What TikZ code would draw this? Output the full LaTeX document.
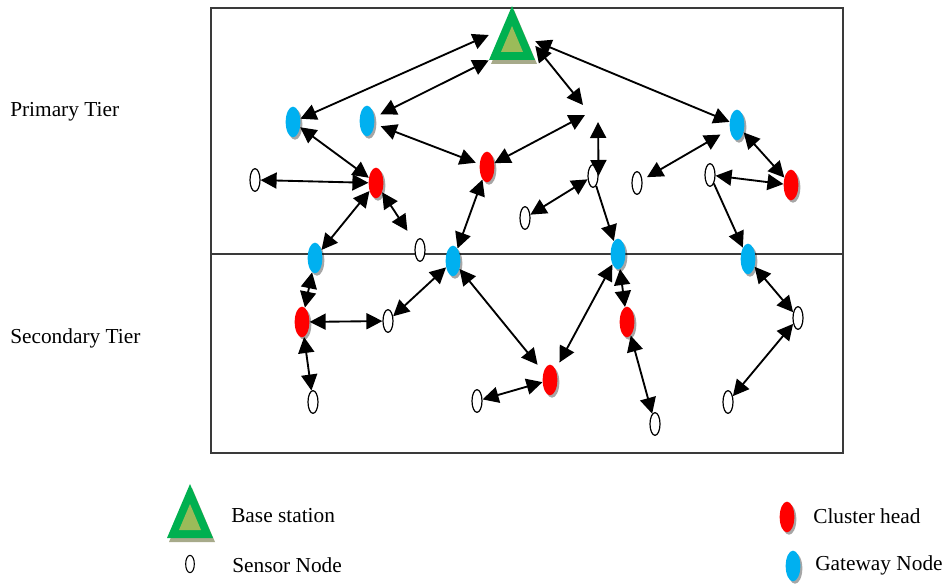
\documentclass[tikz,border=0pt]{standalone}
\usepackage{fontspec}
\setmainfont{Liberation Serif}
\usetikzlibrary{arrows.meta,shapes.geometric,shadows}
\definecolor{gwblue}{HTML}{00B0F0}
\definecolor{chred}{HTML}{FF0000}
\definecolor{bsgreen}{HTML}{00B050}
\definecolor{bsolive}{HTML}{9BBB59}
\definecolor{bsshadow}{HTML}{A7AA8A}
\definecolor{framegray}{HTML}{3A3A3A}
\tikzset{
  nshadow/.style={drop shadow={shadow xshift=1.5pt, shadow yshift=-1.8pt, fill=black, opacity=0.35}},
  gw/.style={ellipse, fill=gwblue, minimum width=11pt, minimum height=23pt, inner sep=0pt, nshadow},
  ch/.style={ellipse, fill=chred, minimum width=11pt, minimum height=23pt, inner sep=0pt, nshadow},
  sn/.style={ellipse, draw=black, line width=0.9pt, fill=white, minimum width=7.5pt, minimum height=17pt, inner sep=0pt},
  dar/.style={{Triangle[length=12pt,width=12pt]}-{Triangle[length=12pt,width=12pt]}, line width=1.4pt},
  sar/.style={-{Triangle[length=12pt,width=12pt]}, line width=1.4pt},
  lbl/.style={anchor=west, inner sep=0pt, font=\fontsize{16}{19}\selectfont},
  basestation/.pic={
    \fill[bsshadow] (2,-23) -- (-21,31) -- (25,31) -- cycle;
    \fill[bsgreen] (0,-27) -- (-23,27) -- (23,27) -- cycle;
    \fill[bsolive] (0,-7) -- (-11,19) -- (11,19) -- cycle;
  }
}
\begin{document}
\begin{tikzpicture}[x=0.75pt,y=-0.75pt]
\useasboundingbox (0,0) rectangle (945,584);
% frame and tier divider
\draw[framegray, line width=1.1pt] (211,8) rectangle (843,453);
\draw[framegray, line width=0.9pt] (211,254) -- (843,254);
% tier labels
\node[lbl] (tp) at (10,112) {Primary Tier};
\node[lbl] (ts) at (10,338) {Secondary Tier};
% base station
\pic at (512,33) {basestation};
\node[minimum width=34.5pt, minimum height=37.5pt, inner sep=0pt] (bs) at (512,35) {};
% gateway nodes
\node[gw] (g1) at (293,122) {};
\node[gw] (g2) at (367,121) {};
\node[gw] (g3) at (737,125) {};
\node[gw] (g4) at (315,258) {};
\node[gw] (g5) at (453,261) {};
\node[gw] (g6) at (618,254) {};
\node[gw] (g7) at (748,259) {};
% cluster heads
\node[ch] (c1) at (376,183) {};
\node[ch] (c2) at (487,167) {};
\node[ch] (c3) at (791,185) {};
\node[ch] (c4) at (302,322) {};
\node[ch] (c5) at (550,380) {};
\node[ch] (c6) at (627,322) {};
% sensor nodes
\node[sn] (s1) at (255,180) {};
\node[sn] (s2) at (420,250) {};
\node[sn] (s3) at (525,218) {};
\node[sn] (s4) at (593,176) {};
\node[sn] (s5) at (637,183) {};
\node[sn] (s6) at (710,175) {};
\node[sn] (s7) at (388,321) {};
\node[sn] (s8) at (313,402) {};
\node[sn] (s9) at (477,401) {};
\node[sn] (s10) at (655,424) {};
\node[sn] (s11) at (798,318) {};
\node[sn] (s12) at (728,402) {};
% free ends
\coordinate (p1) at (583,105);
\coordinate (p2) at (585,115);
\coordinate (p3) at (598,122);
% connectors
\draw[dar] (bs.west) -- (g1);
\draw[dar, shorten >=5pt] (bs.south west) -- (g2);
\draw[dar] (bs.-25) -- (p1);
\draw[dar] (bs.-15) -- (g3);
\draw[dar, shorten <=5pt, shorten >=3pt] (g2) -- (c2);
\draw[dar] (c2) -- (p2);
\draw[dar] (p3) -- (s4.east);
\draw[dar] (s3) -- (s4);
\draw[sar] (s4) -- (g6);
\draw[dar] (c2) -- (g5);
\draw[dar] (g1) -- (c1);
\draw[dar] (s1) -- (c1);
\draw[dar, shorten >=11pt] (c1) -- (s2);
\draw[dar] (c1) -- (g4);
\draw[dar, shorten <=8pt, shorten >=4pt] (g3) -- (s5);
\draw[dar] (g3) -- (c3);
\draw[dar] (c3) -- (s6);
\draw[sar] (s6) -- (g7);
\draw[dar] (g4) -- (c4);
\draw[dar] (c4) -- (s7);
\draw[dar] (s7) -- (g5);
\draw[dar] (c4) -- (s8);
\draw[dar, shorten >=7pt] (g5) -- (c5);
\draw[dar, shorten >=6pt] (g6) -- (c5);
\draw[dar] (c5) -- (s9);
\draw[dar] (g6) -- (c6);
\draw[dar] (c6) -- (s10);
\draw[dar] (g7) -- (s11);
\draw[dar] (s11) -- (s12);
% legend
\pic at (190,511) {basestation};
\node[lbl] (lbs) at (231,516) {Base station};
\node[sn, line width=0.8pt, minimum width=6.5pt, minimum height=13pt] (lsn) at (190,564) {};
\node[lbl] (lsnt) at (232,565) {Sensor Node};
\node[ch] (lch) at (787,517) {};
\node[lbl] (lcht) at (813,516) {Cluster head};
\node[gw] (lgw) at (793,566) {};
\node[lbl] (lgwt) at (815,565) {Gateway Node};
\end{tikzpicture}
\end{document}
